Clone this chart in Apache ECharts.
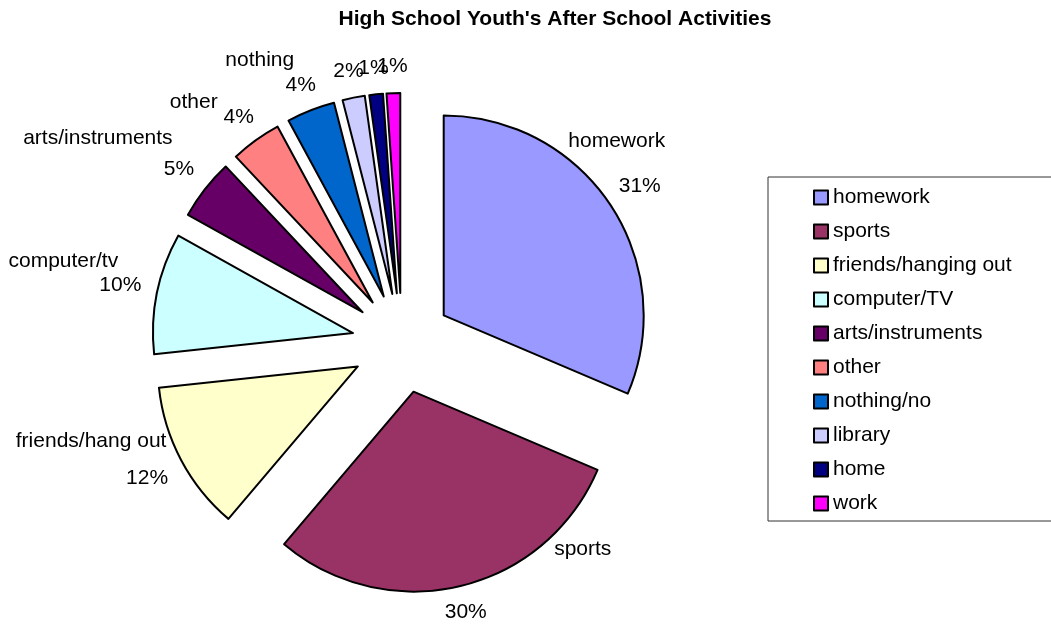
<!DOCTYPE html>
<html>
<head>
<meta charset="utf-8">
<script src="https://cdn.jsdelivr.net/npm/echarts@6/dist/echarts.min.js"></script>
<style>
  html, body { margin: 0; padding: 0; background: #fff; }
  #chart { width: 1051px; height: 625px; }
</style>
</head>
<body>
<div id="chart"></div>
<script>
// ---- data ----
const categories = ['homework', 'sports', 'friends/hanging out', 'computer/TV', 'arts/instruments', 'other', 'nothing/no', 'library', 'home', 'work'];
const sliceLabels = ['homework', 'sports', 'friends/hang out', 'computer/tv', 'arts/instruments', 'other', 'nothing', '', '', ''];
const values = [31.4, 29.8, 12.1, 9.8, 4.9, 4.1, 3.9, 1.8, 1.1, 1.1];
const colors = ['#9999FF', '#993366', '#FFFFCC', '#CCFFFF', '#660066', '#FF8080', '#0066CC', '#CCCCFF', '#000080', '#FF00FF'];

// ---- layout config ----
const CX = 402, CY = 343, RADIUS = 200, EXPLODE = 50;
const PCT_R0 = 266;   // radius that the percentage label boxes touch
// name label shift relative to its percentage label (Excel's placement)
const nameLabelShift = [[-23, -45], [117, -63], [-56, -37], [-57, -24], [-81, -31], [-45, -15], [-41, -25], [0, 0], [0, 0], [0, 0]];
const FONT = 'Liberation Sans, Arial, sans-serif';

const total = values.reduce((a, b) => a + b, 0);
function midAngle(i) {
  let cum = 0;
  for (let k = 0; k < i; k++) cum += values[k];
  return (cum + values[i] / 2) / total * Math.PI * 2;
}
function pctPos(i, w, h) {
  const a = midAngle(i);
  const s = Math.abs(Math.sin(a)), c = Math.abs(Math.cos(a));
  const ext = Math.min(s > 1e-6 ? (w / 2) / s : 1e9, c > 1e-6 ? (h / 2) / c : 1e9);
  const R = PCT_R0 + ext;
  return [CX + R * Math.sin(a), CY - R * Math.cos(a)];
}

const sliceData = categories.map((c, i) => ({
  name: c, value: values[i], selected: true,
  itemStyle: { color: colors[i] }
}));
const ghostData = categories.map((c, i) => ({ name: c, value: values[i] }));

const ghostBase = {
  type: 'pie',
  center: [CX, CY],
  radius: [0, RADIUS],
  startAngle: 90,
  clockwise: true,
  percentPrecision: 0,
  avoidLabelOverlap: false,
  silent: true,
  emphasis: { disabled: true },
  itemStyle: { color: 'rgba(0,0,0,0)', borderWidth: 0 },
  labelLine: { show: false },
  data: ghostData
};

// width/height of the "NN%" label box, measured once
const PCT_FONT = '21px ' + FONT;
function pctBox(i) {
  return [echarts.format.getTextRect ? 0 : 0, 0];
}

const chart = echarts.init(document.getElementById('chart'), null, { renderer: 'canvas' });
const pctAnchors = {};
chart.setOption({
  animation: false,
  backgroundColor: '#fff',
  title: {
    text: "High School Youth's After School Activities",
    left: 555, top: 9, textAlign: 'center', padding: 0,
    textStyle: { fontFamily: FONT, fontSize: 21, fontWeight: 'bold', color: '#000' }
  },
  legend: {
    orient: 'vertical',
    left: 768, top: 177,
    padding: [10, 70, 7, 45],
    itemGap: 13,
    itemWidth: 14, itemHeight: 14,
    icon: 'rect',
    borderColor: '#333', borderWidth: 1,
    selectedMode: false,
    data: categories,
    itemStyle: { borderColor: '#000', borderWidth: 2 },
    textStyle: { fontFamily: FONT, fontSize: 21, lineHeight: 21, color: '#000' }
  },
  series: [
    {
      type: 'pie',
      center: [CX, CY],
      radius: [0, RADIUS],
      startAngle: 90,
      clockwise: true,
      selectedMode: 'multiple',
      selectedOffset: EXPLODE,
      avoidLabelOverlap: false,
      silent: true,
      emphasis: { disabled: true },
      itemStyle: { borderColor: '#000', borderWidth: 2 },
      select: { itemStyle: { borderColor: '#000', borderWidth: 2 } },
      label: { show: false },
      labelLine: { show: false },
      data: sliceData
    },
    Object.assign({}, ghostBase, {
      label: {
        show: true, position: 'outside',
        formatter: '{d}%',
        fontFamily: FONT, fontSize: 21, lineHeight: 21, color: '#000'
      },
      labelLayout: p => {
        const pos = pctPos(p.dataIndex, p.labelRect.width, p.labelRect.height);
        pctAnchors[p.dataIndex] = pos;
        return { x: pos[0], y: pos[1], align: 'center', verticalAlign: 'middle' };
      }
    }),
    Object.assign({}, ghostBase, {
      label: {
        show: true, position: 'outside',
        formatter: p => sliceLabels[p.dataIndex],
        fontFamily: FONT, fontSize: 21, lineHeight: 21, color: '#000'
      },
      labelLayout: p => {
        // anchor on the percentage label of the same slice (42x21 box for "NN%")
        const pos = pctAnchors[p.dataIndex] || pctPos(p.dataIndex, 42, 21);
        const s = nameLabelShift[p.dataIndex];
        return { x: pos[0] + s[0], y: pos[1] + s[1], align: 'center', verticalAlign: 'middle' };
      }
    })
  ]
});
</script>
</body>
</html>
